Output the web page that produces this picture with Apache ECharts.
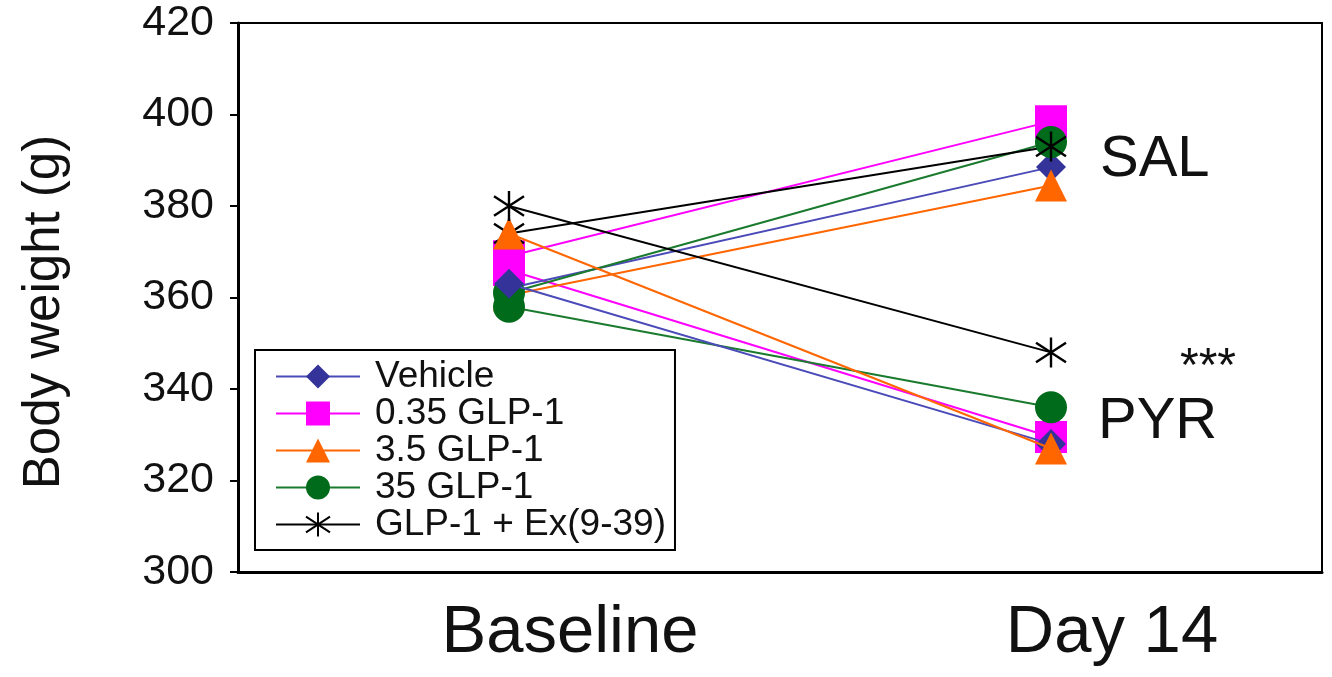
<!DOCTYPE html>
<html>
<head>
<meta charset="utf-8">
<script src="https://cdn.jsdelivr.net/npm/echarts@6/dist/echarts.min.js"></script>
<style>
html,body{margin:0;padding:0;background:#fff;}
#chart{width:1332px;height:677px;}
</style>
</head>
<body>
<div id="chart"></div>
<script>
const categories = ['Baseline', 'Day 14'];
const groupNames = ['Vehicle', '0.35 GLP-1', '3.5 GLP-1', '35 GLP-1', 'GLP-1 + Ex(9-39)'];
const salValues = {
  'Vehicle': [362, 388.5],
  '0.35 GLP-1': [369, 398.5],
  '3.5 GLP-1': [360.5, 384.5],
  '35 GLP-1': [361, 394],
  'GLP-1 + Ex(9-39)': [374, 393]
};
const pyrValues = {
  'Vehicle': [363, 328],
  '0.35 GLP-1': [366, 329.5],
  '3.5 GLP-1': [374, 327],
  '35 GLP-1': [358, 336],
  'GLP-1 + Ex(9-39)': [380, 348]
};
const yTicks = [300, 320, 340, 360, 380, 400, 420];

const FONT = 'Liberation Sans, Arial, sans-serif';
const asterisk = 'path://M0,-10L0,10M-7.6,-6.5L7.6,6.5M-7.6,6.5L7.6,-6.5';
const styles = {
  'Vehicle': {color: '#333399', line: '#4a4ab8', symbol: 'diamond', size: 30},
  '0.35 GLP-1': {color: '#ff00ff', line: '#ff00ff', symbol: 'rect', size: 32},
  '3.5 GLP-1': {color: '#ff6600', line: '#ff6600', symbol: 'triangle', size: 32},
  '35 GLP-1': {color: '#006b1a', line: '#1a7a2e', symbol: 'circle', size: 32},
  'GLP-1 + Ex(9-39)': {color: '#000000', line: '#000000', symbol: asterisk, size: 30}
};
const zSal = {'Vehicle': 2, '0.35 GLP-1': 1, '3.5 GLP-1': 3, '35 GLP-1': 4, 'GLP-1 + Ex(9-39)': 4};
const zPyr = {'Vehicle': 5, '0.35 GLP-1': 1, '3.5 GLP-1': 6, '35 GLP-1': 4, 'GLP-1 + Ex(9-39)': 6};

function makeSeries(name, data, z) {
  const s = styles[name];
  const isStar = name === 'GLP-1 + Ex(9-39)';
  return {
    name: name,
    type: 'line',
    data: data,
    symbol: s.symbol,
    symbolSize: s.size,
    z: z,
    color: s.color,
    lineStyle: {color: s.line, width: 2},
    itemStyle: isStar ? {color: 'none', borderColor: '#000', borderWidth: 2.4} : {color: s.color, borderWidth: 0},
    emphasis: {disabled: true},
    animation: false
  };
}

const series = [];
groupNames.forEach(n => series.push(makeSeries(n, salValues[n], zSal[n])));
groupNames.forEach(n => series.push(makeSeries(n, pyrValues[n], zPyr[n])));

const chart = echarts.init(document.getElementById('chart'), null, {renderer: 'canvas'});
chart.setOption({
  animation: false,
  backgroundColor: '#fff',
  textStyle: {fontFamily: FONT},
  grid: {left: 238, right: 10, top: 23, bottom: 105, show: true, borderColor: '#000', borderWidth: 2},
  legend: {
    data: groupNames,
    orient: 'vertical',
    left: 255,
    top: 350,
    padding: [8, 9, 7, 20],
    itemGap: 0,
    itemWidth: 84,
    itemHeight: 30,
    borderColor: '#000',
    borderWidth: 2,
    backgroundColor: '#fff',
    z: 10,
    textStyle: {fontFamily: FONT, fontSize: 37, color: '#111', lineHeight: 37, padding: [0, 0, 0, 10]},
    selectedMode: false
  },
  xAxis: {
    type: 'category',
    data: categories,
    boundaryGap: true,
    axisLine: {lineStyle: {color: '#000', width: 3}},
    axisTick: {length: 8, lineStyle: {color: '#000', width: 2}},
    axisLabel: {fontFamily: FONT, fontSize: 67, color: '#111', margin: 28, padding: [0, 0, 0, 122]}
  },
  yAxis: {
    type: 'value',
    min: yTicks[0],
    max: yTicks[yTicks.length - 1],
    interval: 20,
    splitLine: {show: false},
    axisLine: {show: true, lineStyle: {color: '#000', width: 3}},
    axisTick: {show: true, length: 8, lineStyle: {color: '#000', width: 2}},
    axisLabel: {fontFamily: FONT, fontSize: 43, color: '#111', margin: 24}
  },
  graphic: [
    {type: 'text', x: 45, y: 312, rotation: Math.PI / 2,
     style: {text: 'Body weight (g)', font: '51px ' + FONT, fill: '#111', align: 'center', verticalAlign: 'middle'}},
    {type: 'text', left: 1100, top: 131, style: {text: 'SAL', font: '58px ' + FONT, fill: '#111'}},
    {type: 'text', left: 1098, top: 393, style: {text: 'PYR', font: '58px ' + FONT, fill: '#111'}},
    {type: 'text', left: 1180, top: 344, style: {text: '***', font: '48px ' + FONT, fill: '#111'}}
  ],
  series: series
});
</script>
</body>
</html>
